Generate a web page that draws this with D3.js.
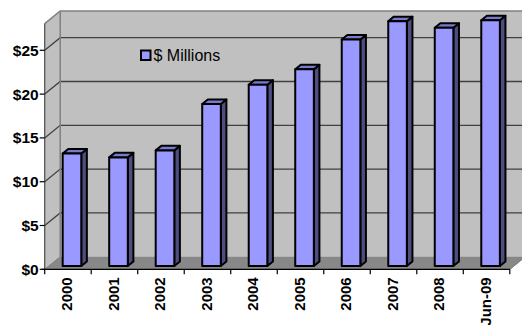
<!DOCTYPE html>
<html>
<head>
<meta charset="utf-8">
<script src="https://cdn.jsdelivr.net/npm/d3@7"></script>
<style>
  html, body { margin: 0; padding: 0; background: #ffffff; }
  svg { display: block; }
  text { font-family: "Liberation Sans", Arial, sans-serif; }
</style>
</head>
<body>
<svg id="chart" width="522" height="325"></svg>
<script>
// ---- data ----
const categories = ["2000", "2001", "2002", "2003", "2004", "2005", "2006", "2007", "2008", "Jun-09"];
const values = [12.85, 12.4, 13.2, 18.5, 20.7, 22.45, 25.85, 27.95, 27.2, 28.05];
const yTicks = [0, 5, 10, 15, 20, 25];
const yTickLabels = ["$0", "$5", "$10", "$15", "$20", "$25"];
const seriesName = "$ Millions";

// ---- layout ----
const svg = d3.select("#chart");
const X0 = 44.7, X1 = 509.8;
const Y0 = 269.3, PX_PER = 8.76, YMAX = 28.05;
const DX = 15.5, DY = 12.6;      // depth offset of the back plane
const Z0 = 0.26, Z1 = 0.62;      // depth range of the bars

const x = d3.scaleBand().domain(categories).range([X0, X1]).paddingInner(0.6).paddingOuter(0.3);
const xc = d3.scaleBand().domain(categories).range([X0, X1]).padding(0);
const y = d3.scaleLinear().domain([0, YMAX]).range([Y0, Y0 - YMAX * PX_PER]);

const P = (px, v, z) => [px + z * DX, y(v) - z * DY];
const poly = pts => pts.map(p => p.join(",")).join(" ");

// ---- walls & floor ----
const g = svg.append("g");
// floor
g.append("polygon")
  .attr("points", poly([P(X0, 0, 0), P(X1, 0, 0), P(X1, 0, 1), P(X0, 0, 1)]))
  .attr("fill", "#888888").attr("stroke", "#808080").attr("stroke-width", 1);
// back wall
g.append("polygon")
  .attr("points", poly([P(X0, 0, 1), P(X1 + 40, 0, 1), P(X1 + 40, YMAX, 1), P(X0, YMAX, 1)]))
  .attr("fill", "#c0c0c0");
// left wall
g.append("polygon")
  .attr("points", poly([P(X0, 0, 0), P(X0, 0, 1), P(X0, YMAX, 1), P(X0, YMAX, 0)]))
  .attr("fill", "#c0c0c0");

// gridlines (back wall + left wall)
yTicks.filter(t => t > 0).forEach(t => {
  g.append("polyline")
    .attr("points", poly([P(X0, t, 0), P(X0, t, 1), P(X1 + 40, t, 1)]))
    .attr("fill", "none").attr("stroke", "#404040").attr("stroke-width", 1.3);
});
// wall borders
g.append("polyline")
  .attr("points", poly([P(X0, YMAX, 0), P(X0, YMAX, 1), P(X1 + 40, YMAX, 1)]))
  .attr("fill", "none").attr("stroke", "#808080").attr("stroke-width", 1.5);
g.append("line")
  .attr("x1", P(X0, 0, 1)[0]).attr("y1", P(X0, 0, 1)[1])
  .attr("x2", P(X0, YMAX, 1)[0]).attr("y2", P(X0, YMAX, 1)[1])
  .attr("stroke", "#808080").attr("stroke-width", 1.5);
g.append("line")
  .attr("x1", P(X0, 0, 0)[0]).attr("y1", P(X0, 0, 0)[1])
  .attr("x2", P(X0, 0, 1)[0]).attr("y2", P(X0, 0, 1)[1])
  .attr("stroke", "#808080").attr("stroke-width", 1);
g.append("line")
  .attr("x1", P(X1, 0, 0)[0]).attr("y1", P(X1, 0, 0)[1])
  .attr("x2", P(X1, 0, 1)[0] + 10).attr("y2", P(X1, 0, 1)[1] - 8)
  .attr("stroke", "#808080").attr("stroke-width", 1);

// ---- axes ----
g.append("line")
  .attr("x1", X0).attr("y1", y(0)).attr("x2", X0).attr("y2", y(YMAX))
  .attr("stroke", "#555555").attr("stroke-width", 1.3);
g.append("line")
  .attr("x1", X0 - 3).attr("y1", y(0)).attr("x2", X1).attr("y2", y(0))
  .attr("stroke", "#000").attr("stroke-width", 1.3);

const yAxis = svg.append("g");
yTicks.forEach((t, i) => {
  yAxis.append("line").attr("x1", X0 - 5).attr("x2", X0).attr("y1", y(t)).attr("y2", y(t))
    .attr("stroke", "#000").attr("stroke-width", 1.2);
  yAxis.append("text").attr("x", X0 - 6).attr("y", y(t)).attr("dy", "0.36em")
    .attr("text-anchor", "end").attr("font-size", 15.5).attr("font-weight", "bold")
    .attr("fill", "#000").text(yTickLabels[i]);
});

const xAxis = svg.append("g");
categories.forEach(c => {
  xAxis.append("line").attr("x1", xc(c)).attr("x2", xc(c)).attr("y1", y(0)).attr("y2", y(0) + 5)
    .attr("stroke", "#000").attr("stroke-width", 1.2);
});
xAxis.append("line").attr("x1", X1).attr("x2", X1).attr("y1", y(0)).attr("y2", y(0) + 5)
  .attr("stroke", "#000").attr("stroke-width", 1.2);
categories.forEach(c => {
  const cx = xc(c) + xc.bandwidth() / 2 - 1;
  xAxis.append("text")
    .attr("transform", `translate(${cx},${y(0) + 8}) rotate(-90)`)
    .attr("text-anchor", "end").attr("dy", "0.36em")
    .attr("font-size", 15).attr("font-weight", "bold").attr("fill", "#000")
    .text(c);
});

// ---- bars ----
const bars = svg.append("g");
categories.forEach((c, i) => {
  const v = values[i];
  const bx = x(c), bw = x.bandwidth();
  const bg = bars.append("g")
    .attr("stroke", "#000").attr("stroke-width", 2).attr("stroke-linejoin", "round");
  bg.append("polygon").attr("points", poly([P(bx + bw, 0, Z0), P(bx + bw, 0, Z1), P(bx + bw, v, Z1), P(bx + bw, v, Z0)]))
    .attr("fill", "#4d4d80");
  bg.append("polygon").attr("points", poly([P(bx, v, Z0), P(bx + bw, v, Z0), P(bx + bw, v, Z1), P(bx, v, Z1)]))
    .attr("fill", "#7a7acc");
  bg.append("polygon").attr("points", poly([P(bx, 0, Z0), P(bx + bw, 0, Z0), P(bx + bw, v, Z0), P(bx, v, Z0)]))
    .attr("fill", "#9999ff");
});

// ---- legend ----
const lg = svg.append("g");
lg.append("rect").attr("x", 141).attr("y", 50.5).attr("width", 9.5).attr("height", 9.5)
  .attr("fill", "#9999ff").attr("stroke", "#000").attr("stroke-width", 2);
lg.append("text").attr("x", 153.5).attr("y", 61).attr("font-size", 16).attr("fill", "#000")
  .text(seriesName);
</script>
</body>
</html>
